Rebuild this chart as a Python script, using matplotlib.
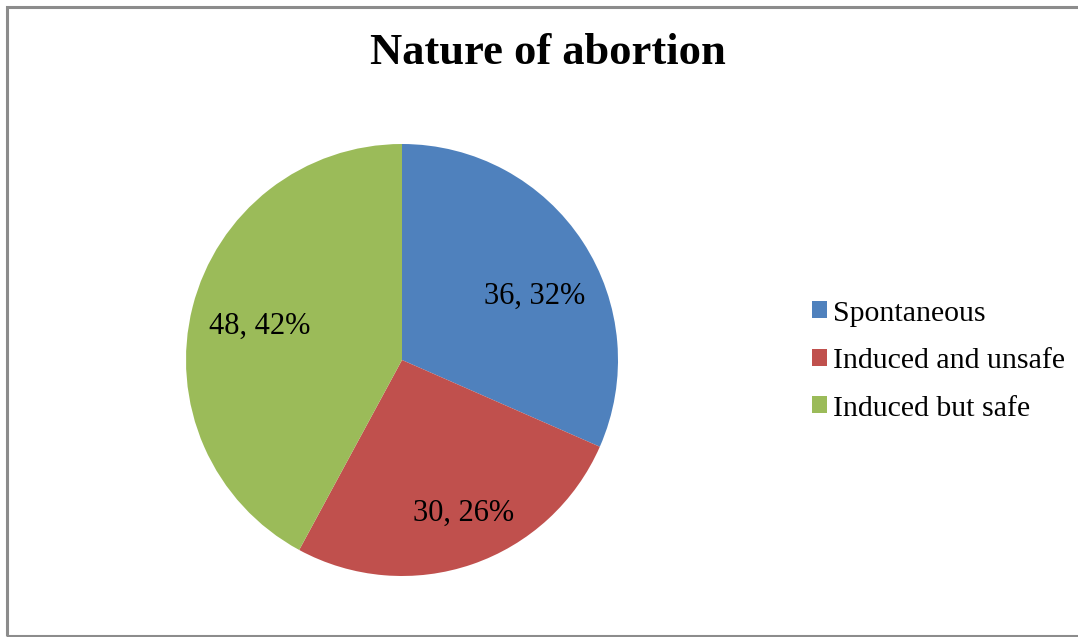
import matplotlib
matplotlib.use("Agg")
import matplotlib.pyplot as plt
from matplotlib.patches import Rectangle

# Datos
categorias = ["Spontaneous", "Induced and unsafe", "Induced but safe"]
valores = [36, 30, 48]
colores = ["#4F81BD", "#C0504D", "#9BBB59"]
titulo = "Nature of abortion"

W, H = 1078, 637
fig = plt.figure(figsize=(W / 100, H / 100), dpi=100)
plt.rcParams["font.family"] = ["Liberation Serif", "DejaVu Serif"]

# marco gris
fig.patches.append(Rectangle((7 / W, 1 - 636 / H), 1.2, (636 - 7) / H,
                             transform=fig.transFigure, fill=False,
                             edgecolor="#8c8c8c", linewidth=2.2))

cx, cy, r = 402, 360, 216
ax = fig.add_axes([(cx - r) / W, 1 - (cy + r) / H, 2 * r / W, 2 * r / H])

total = sum(valores)


def etiqueta(pct):
    v = int(round(pct * total / 100))
    return f"{v}, {pct:.0f}%"


wedges, _, autotexts = ax.pie(valores, colors=colores, startangle=90,
                              counterclock=False, autopct=etiqueta,
                              pctdistance=0.72, radius=1,
                              wedgeprops=dict(linewidth=0),
                              textprops=dict(fontsize=22, color="black"))
ax.set_xlim(-1, 1)
ax.set_ylim(-1, 1)
ax.set_aspect("equal")

# pequeño ajuste de las etiquetas, como las coloca Excel
ajustes = [(0.01, -0.097), (0.05, -0.028), (0.037, -0.023)]
for t, (dx, dy) in zip(autotexts, ajustes):
    x, y = t.get_position()
    t.set_position((x + dx, y + dy))

fig.text(548 / W, 1 - 53 / H, titulo, ha="center", va="center",
         fontsize=32, fontweight="bold")

fig.legend(wedges, categorias, loc="center left",
           bbox_to_anchor=(800 / W, 1 - 361 / H), frameon=False,
           fontsize=21.5, handlelength=0.5, handleheight=0.5,
           handletextpad=0.22, labelspacing=0.72, borderaxespad=0)

fig.savefig("out.png", dpi=100)
